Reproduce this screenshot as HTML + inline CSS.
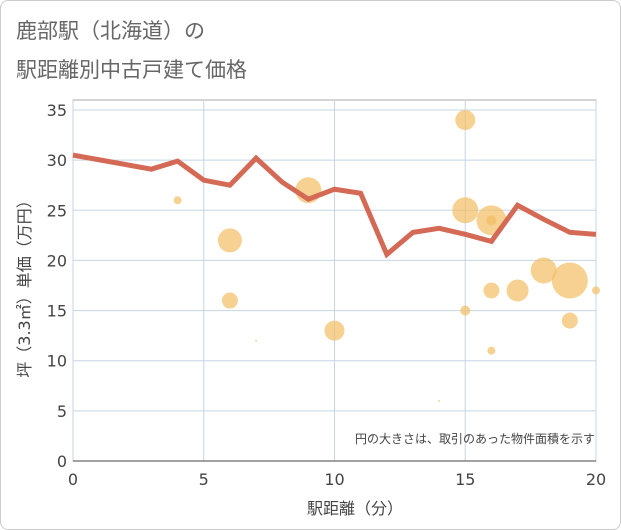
<!DOCTYPE html>
<html><head><meta charset="utf-8">
<style>
body{margin:0;background:#fff;font-family:"DejaVu Sans","Noto Sans CJK JP",sans-serif;}
#wrap{position:relative;width:619px;height:528px;border:1px solid #ccc;border-radius:8px;background:#fff;overflow:hidden}
</style></head>
<body>
<div id="wrap">
<svg id="chart" width="621" height="530" style="position:absolute;left:-1px;top:-1px">
<text x="16" y="38" font-size="21" fill="#666">鹿部駅（北海道）の</text>
<text x="16" y="77" font-size="21" fill="#666">駅距離別中古戸建て価格</text>
<g id="grid"></g>
<g id="bubbles"></g>
<g id="line"></g>
<g id="axes"></g>
<text x="595" y="443" font-size="12" fill="#444" text-anchor="end">円の大きさは、取引のあった物件面積を示す</text>
<text x="355" y="514" font-size="16" fill="#444" text-anchor="middle">駅距離（分）</text>
<text transform="translate(30,285) rotate(-90)" font-size="16" fill="#444" text-anchor="middle">坪（3.3㎡）単価（万円）</text>
</svg>
</div>
<script>
const xTicks=[0,5,10,15,20];
const yTicks=[0,5,10,15,20,25,30,35];
const lineX=[0,3,4,5,6,7,8,9,10,11,12,13,14,15,16,17,18,19,20];
const lineY=[30.5,29.1,29.9,28,27.5,30.2,27.8,26.1,27.1,26.7,20.6,22.8,23.2,22.6,21.9,25.5,24.1,22.8,22.6];
const bubX=[4,6,6,7,9,10,14,15,15,15,16,16,16,16,17,18,19,19,20];
const bubY=[26,22,16,12,27,13,6,34,25,15,24,24,17,11,17,19,18,14,17];
const bubR=[4,12,8,1,13,10,1,10,13,5,15,5,8,4,11,13,18,8,4];
const NS="http://www.w3.org/2000/svg";
const X0=73,X1=596,Y0=461,Y1=110;
const sx=v=>X0+(v-0)/20*(X1-X0);
const sy=v=>Y0-(v/35)*(Y0-Y1);
function mk(t,a,p){const e=document.createElementNS(NS,t);for(const k in a)e.setAttribute(k,a[k]);p.appendChild(e);return e;}
const grid=document.getElementById('grid'),axes=document.getElementById('axes');
mk('rect',{x:X0,y:100,width:X1-X0,height:Y0-100,fill:'none',stroke:'#aaa','stroke-width':1},grid);
yTicks.forEach(v=>{
 const l=mk('line',{x1:X0,x2:X1,y1:sy(v),y2:sy(v),stroke:'#c5d5e6','stroke-width':1},grid);
 
 
 const t=mk('text',{x:X0-6,y:sy(v)+6,'font-size':16,fill:'#444','text-anchor':'end'},axes);
 t.textContent=v;
 
 
});
xTicks.forEach(v=>{
 const l=mk('line',{x1:sx(v),x2:sx(v),y1:100,y2:Y0,stroke:'#c5d5e6','stroke-width':1},grid);
 
 
 const t=mk('text',{x:sx(v),y:Y0+24,'font-size':16,fill:'#444','text-anchor':'middle'},axes);
 t.textContent=v;
 
 
});
mk('line',{x1:X0,x2:X1,y1:Y0,y2:Y0,stroke:'#444','stroke-width':1},axes);
const bg=document.getElementById('bubbles');
bubX.forEach((x,i)=>{
 const c=mk('circle',{cx:sx(x),cy:sy(bubY[i]),r:bubR[i],fill:'#f2bd64','fill-opacity':0.7},bg);
 
 
});
const pts=lineX.map((x,i)=>sx(x)+','+sy(lineY[i])).join(' ');
const pl=mk('polyline',{points:pts,fill:'none',stroke:'#d46a55','stroke-width':5,'stroke-linejoin':'miter'},document.getElementById('line'));


</script>
</body></html>
